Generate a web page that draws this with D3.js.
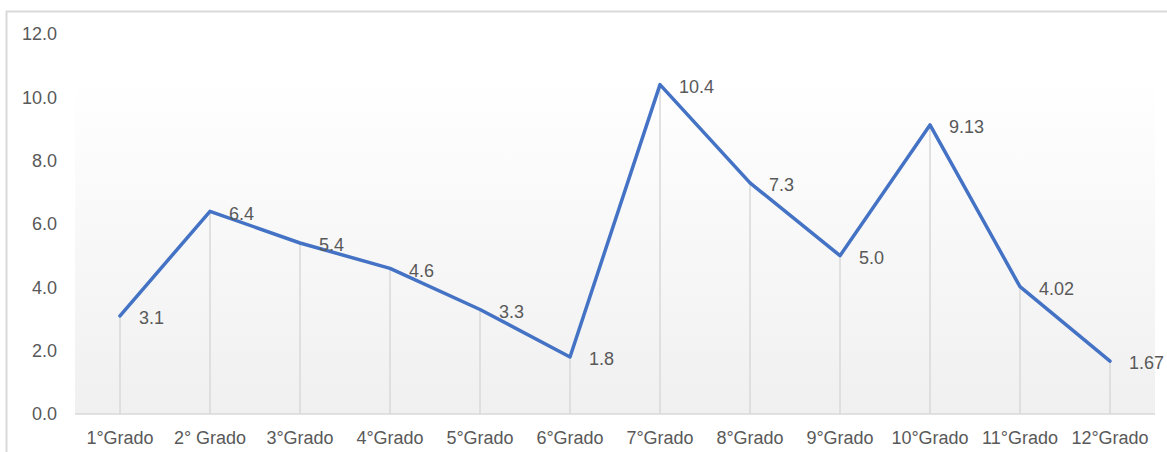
<!DOCTYPE html>
<html>
<head>
<meta charset="utf-8">
<script src="https://cdn.jsdelivr.net/npm/d3@7"></script>
<style>
  html, body { margin: 0; padding: 0; background: #fff; }
  svg { display: block; }
  text { font-family: "Liberation Sans", Arial, sans-serif; fill: #595959; }
</style>
</head>
<body>
<svg id="chart" width="1167" height="452"></svg>
<script>
const categories = ["1°Grado", "2° Grado", "3°Grado", "4°Grado", "5°Grado", "6°Grado",
                    "7°Grado", "8°Grado", "9°Grado", "10°Grado", "11°Grado", "12°Grado"];
const values = [3.1, 6.4, 5.4, 4.6, 3.3, 1.8, 10.4, 7.3, 5.0, 9.13, 4.02, 1.67];
const valueLabels = ["3.1", "6.4", "5.4", "4.6", "3.3", "1.8", "10.4", "7.3", "5.0", "9.13", "4.02", "1.67"];
const yTicks = [0, 2, 4, 6, 8, 10, 12];

(function () {
const svg = d3.select("#chart");
const mLeft = 75, mRight = 1155, mTop = 34, mBottom = 414;

// outer border (only top and left visible)
svg.append("rect").attr("x", 6.5).attr("y", 11.5).attr("width", 1200).attr("height", 500)
  .attr("fill", "none").attr("stroke", "#d9d9d9").attr("stroke-width", 2);

const x = d3.scaleBand().domain(categories).range([mLeft, mRight]).paddingInner(0).paddingOuter(0);
const y = d3.scaleLinear().domain([0, 12]).range([mBottom, mTop]);

// gradient plot background
const defs = svg.append("defs");
const grad = defs.append("linearGradient").attr("id", "bg").attr("x1", 0).attr("y1", 0).attr("x2", 0).attr("y2", 1);
grad.append("stop").attr("offset", "0%").attr("stop-color", "#ffffff");
grad.append("stop").attr("offset", "100%").attr("stop-color", "#f0f0f0");
svg.append("rect").attr("x", mLeft).attr("y", 77).attr("width", mRight - mLeft).attr("height", mBottom - 77)
  .attr("fill", "url(#bg)");

// y axis labels
svg.append("g").selectAll("text").data(yTicks).join("text")
  .attr("x", 57).attr("y", d => y(d)).attr("dy", "0.35em")
  .attr("text-anchor", "end").attr("font-size", 18)
  .text(d => d.toFixed(1));

// drop lines
const cx = d => x(d) + x.bandwidth() / 2;
svg.append("g").selectAll("line").data(categories).join("line")
  .attr("x1", d => cx(d)).attr("x2", d => cx(d))
  .attr("y1", (d, i) => y(values[i])).attr("y2", mBottom)
  .attr("stroke", "#d9d9d9").attr("stroke-width", 1.5);

// x axis line
svg.append("line").attr("x1", mLeft).attr("x2", mRight).attr("y1", mBottom).attr("y2", mBottom)
  .attr("stroke", "#d9d9d9").attr("stroke-width", 1.5);

// x labels
svg.append("g").selectAll("text").data(categories).join("text")
  .attr("x", d => cx(d)).attr("y", 438).attr("dy", "0.35em")
  .attr("text-anchor", "middle").attr("font-size", 18)
  .text(d => d);

// line
const line = d3.line().x((d, i) => cx(categories[i])).y(d => y(d));
svg.append("path").datum(values).attr("d", line)
  .attr("fill", "none").attr("stroke", "#4472c4").attr("stroke-width", 3.5)
  .attr("stroke-linejoin", "round").attr("stroke-linecap", "round");

// data labels
svg.append("g").selectAll("text").data(values).join("text")
  .attr("x", (d, i) => cx(categories[i]) + 19).attr("y", d => y(d) + 2).attr("dy", "0.35em")
  .attr("font-size", 18)
  .text((d, i) => valueLabels[i]);
})();
</script>
</body>
</html>
